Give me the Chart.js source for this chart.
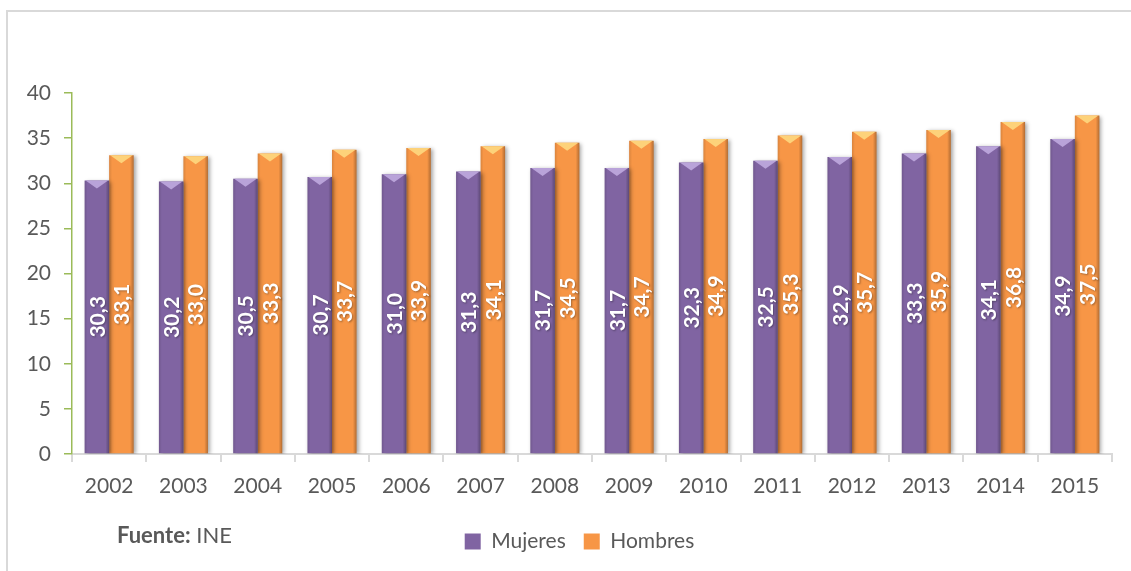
<!DOCTYPE html>
<html>
<head>
<meta charset="utf-8">
<script src="https://cdn.jsdelivr.net/npm/chart.js@4"></script>
<style>
  body { margin: 0; width: 1131px; height: 571px; overflow: hidden; background: #fff; position: relative; font-family: Lato, sans-serif; }
  #frame { position: absolute; left: 6px; top: 10px; width: 1160px; height: 600px; border: 2px solid #d9d9d9; box-sizing: border-box; }
  #wrap { position: absolute; left: 15px; top: 0; width: 1131px; height: 571px; }
  #source { position: absolute; left: 117px; top: 522px; font-size: 22px; line-height: 26px; color: #595959; }
</style>
</head>
<body>
<div id="frame"></div>
<div id="wrap"><canvas id="edadChart" width="1131" height="571"></canvas></div>
<div id="source"><b>Fuente:</b> INE</div>
<script>
// data
const years = ['2002', '2003', '2004', '2005', '2006', '2007', '2008', '2009', '2010', '2011', '2012', '2013', '2014', '2015'];
const mujeres = [30.3, 30.2, 30.5, 30.7, 31.0, 31.3, 31.7, 31.7, 32.3, 32.5, 32.9, 33.3, 34.1, 34.9];
const hombres = [33.1, 33.0, 33.3, 33.7, 33.9, 34.1, 34.5, 34.7, 34.9, 35.3, 35.7, 35.9, 36.8, 37.5];
const yTicks = [0, 5, 10, 15, 20, 25, 30, 35, 40];

const topColors = ['#b9a3d9', '#fdd27a'];
const textGray = '#595959';

// legend sits a bit right of centre in the original
const legendShift = {
    id: 'legendShift',
    afterLayout(chart) {
        chart.legend.left += 16;
        chart.legend.right += 16;
    }
};

// soft shadow under the bars
const shadowPlugin = {
    id: 'barShadow',
    beforeDatasetsDraw(chart) {
        const c = chart.ctx;
        c.save();
        c.shadowColor = 'rgba(0, 0, 0, 0.35)';
        c.shadowBlur = 4;
        c.shadowOffsetX = 2;
        c.shadowOffsetY = 1;
    },
    afterDatasetsDraw(chart) {
        chart.ctx.restore();
    }
};

// bevel look + rotated value labels
const bevelLabels = {
    id: 'bevelLabels',
    afterDatasetsDraw(chart) {
        const c = chart.ctx;
        chart.data.datasets.forEach((ds, di) => {
            const meta = chart.getDatasetMeta(di);
            meta.data.forEach((bar, i) => {
                const left = bar.x - bar.width / 2;
                const right = bar.x + bar.width / 2;
                const top = bar.y;

                // darker edges
                const g = c.createLinearGradient(left, 0, right, 0);
                g.addColorStop(0, 'rgba(0,0,0,0.12)');
                g.addColorStop(0.12, 'rgba(0,0,0,0)');
                g.addColorStop(0.85, 'rgba(0,0,0,0)');
                g.addColorStop(1, 'rgba(0,0,0,0.28)');
                c.fillStyle = g;
                c.fillRect(left, top, bar.width, bar.base - top);

                // light chevron on top
                c.fillStyle = topColors[di];
                c.beginPath();
                c.moveTo(left + 1, top);
                c.lineTo(right - 1, top);
                c.lineTo(bar.x, top + 8);
                c.closePath();
                c.fill();

                // value label, rotated, centred in the bar
                const txt = ds.data[i].toFixed(1).replace('.', ',');
                c.save();
                c.translate(bar.x, (bar.y + bar.base) / 2);
                c.rotate(-Math.PI / 2);
                c.font = 'bold 21px Lato';
                c.fillStyle = '#ffffff';
                c.textAlign = 'center';
                c.textBaseline = 'middle';
                c.shadowColor = 'rgba(0,0,0,0.35)';
                c.shadowBlur = 2;
                c.shadowOffsetX = 1;
                c.shadowOffsetY = 1;
                c.fillText(txt, 0, 1);
                c.restore();
            });
        });
    }
};

const ctx = document.getElementById('edadChart').getContext('2d');

new Chart(ctx, {
    type: 'bar',
    data: {
        labels: years,
        datasets: [
            { label: 'Mujeres', data: mujeres, backgroundColor: '#8064a2', borderWidth: 0 },
            { label: 'Hombres', data: hombres, backgroundColor: '#f79646', borderWidth: 0 }
        ]
    },
    options: {
        responsive: false,
        animation: false,
        barPercentage: 1,
        categoryPercentage: 0.66,
        layout: { padding: { top: 93, right: 34, bottom: 9, left: 0 } },
        plugins: {
            tooltip: { enabled: false },
            legend: {
                position: 'bottom',
                labels: {
                    color: textGray,
                    font: { family: 'Lato', size: 21 },
                    boxWidth: 16,
                    boxHeight: 16,
                    padding: 18
                }
            }
        },
        scales: {
            x: {
                afterFit(scale) { scale.height = 59; },
                grid: { offset: true, drawOnChartArea: false, color: '#d9d9d9', lineWidth: 2, tickLength: 8 },
                border: { color: '#d9d9d9', width: 2 },
                ticks: { color: textGray, font: { family: 'Lato', size: 21 }, padding: 12, maxRotation: 0 }
            },
            y: {
                min: 0,
                max: 40,
                afterFit(scale) { scale.width = 57; },
                afterBuildTicks(scale) { scale.ticks = yTicks.map(v => ({ value: v })); },
                grid: { drawOnChartArea: false, color: '#9bbb59', lineWidth: 1.5, tickLength: 8 },
                border: { color: '#9bbb59', width: 1.5 },
                ticks: { color: textGray, font: { family: 'Lato', size: 21 }, padding: 13 }
            }
        }
    },
    plugins: [legendShift, shadowPlugin, bevelLabels]
});
</script>
</body>
</html>
